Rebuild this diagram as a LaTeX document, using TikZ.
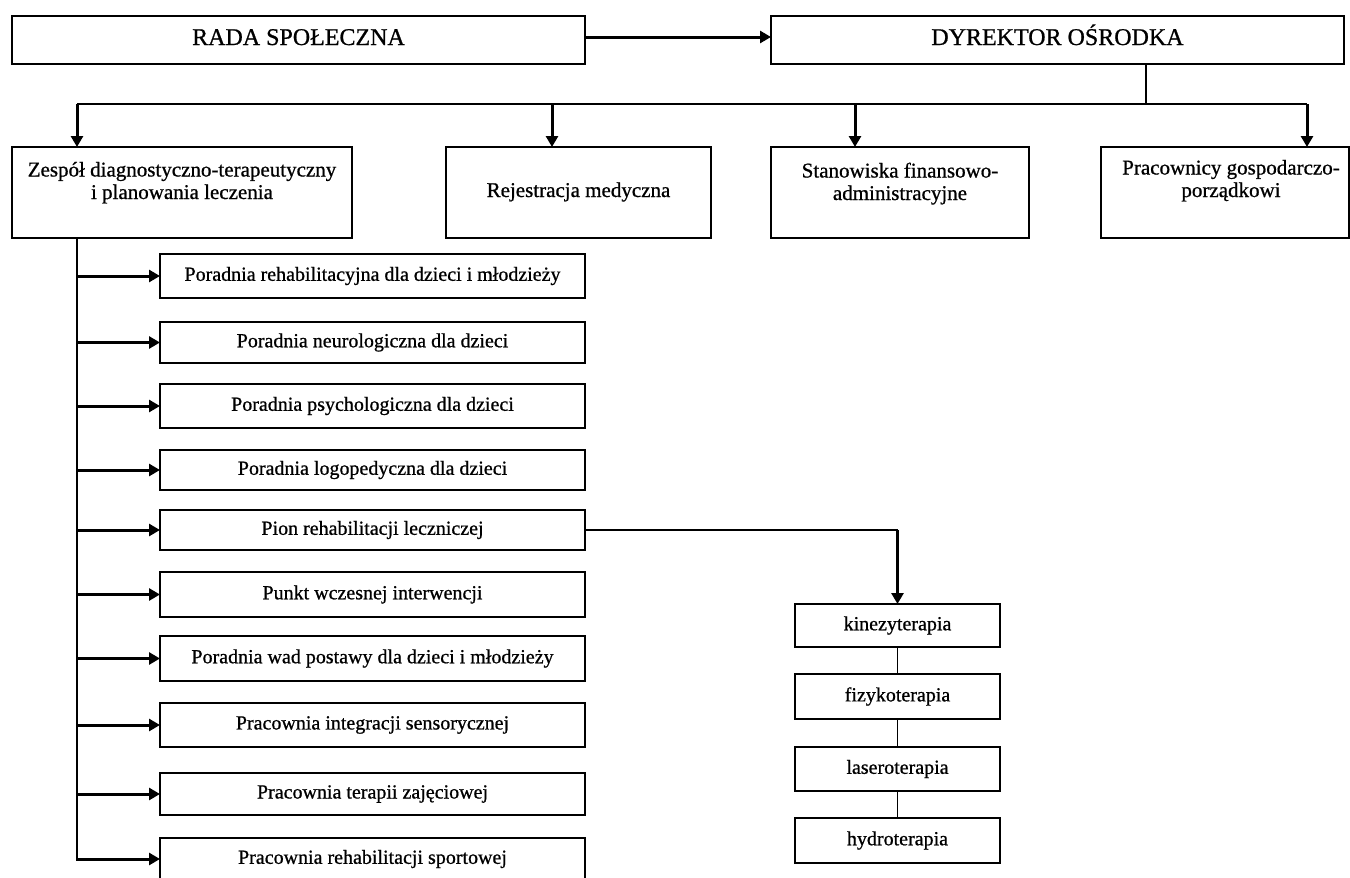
\documentclass[tikz,border=0pt]{standalone}
\usepackage{fontspec}
\setmainfont{Liberation Serif}[FakeBold=0.8]
\usetikzlibrary{arrows.meta}
\begin{document}
\begin{tikzpicture}[x=1pt,y=-1pt,
  box/.style={draw, line width=1.5pt, rectangle, inner sep=0pt, outer sep=0pt},
  t1/.style={font=\fontsize{24}{28}\selectfont, anchor=base, inner sep=0pt},
  t2/.style={font=\fontsize{21}{22.5}\selectfont, align=center, anchor=base, inner sep=0pt},
  sbox/.style={box, minimum width=425pt, font=\fontsize{20}{22}\selectfont},
  kbox/.style={box, minimum width=205pt, font=\fontsize{20}{22}\selectfont},
  arr/.style={line width=3pt, -{Triangle[length=11pt,width=12pt]}},
  thinline/.style={line width=1.5pt},
  mainline/.style={line width=2pt},
]
\useasboundingbox (0,0) rectangle (1350,878);

% top level
\node[box, minimum width=573pt, minimum height=48pt] (rada) at (298.5,40) {};
\node[t1] (radat) at (298.5,45) {RADA SPOŁECZNA};
\node[box, minimum width=573pt, minimum height=48pt] (dyr) at (1057.5,40) {};
\node[t1] (dyrt) at (1057.5,45) {DYREKTOR OŚRODKA};
\draw[arr] ([yshift=3pt]rada.east) -- ([yshift=3pt]dyr.west);

% second level
\node[box, minimum width=340pt, minimum height=91pt] (zes) at (182,192.5) {};
\node[t2] (zest) at (182,199) {Zespół diagnostyczno-terapeutyczny\\i planowania leczenia};
\node[box, minimum width=265pt, minimum height=91pt] (rej) at (578.5,192.5) {};
\node[t2] (rejt) at (578.5,197) {Rejestracja medyczna};
\node[box, minimum width=258pt, minimum height=91pt] (sta) at (900,192.5) {};
\node[t2] (stat) at (900,200) {Stanowiska finansowo-\\administracyjne};
\node[box, minimum width=248pt, minimum height=91pt] (pra) at (1225,192.5) {};
\node[t2] (prat) at (1231,197) {Pracownicy gospodarczo-\\porządkowi};

% bus
\coordinate (bus) at (1146,104);
\coordinate (b1) at (77,104);
\coordinate (b2) at (552,104);
\coordinate (b3) at (855,104);
\coordinate (b4) at (1307,104);
\draw[thinline] (dyr.south -| bus) -- (bus);
\draw[thinline] (b1) -- (b4);
\draw[arr] (b1) -- (b1 |- zes.north);
\draw[arr] (b2) -- (b2 |- rej.north);
\draw[arr] (b3) -- (b3 |- sta.north);
\draw[arr] (b4) -- (b4 |- pra.north);

% units
\node[sbox, minimum height=44pt] (p1) at (372.5,276) {Poradnia rehabilitacyjna dla dzieci i młodzieży};
\node[sbox, minimum height=41pt] (p2) at (372.5,342.5) {Poradnia neurologiczna dla dzieci};
\node[sbox, minimum height=44pt] (p3) at (372.5,406) {Poradnia psychologiczna dla dzieci};
\node[sbox, minimum height=40pt] (p4) at (372.5,470) {Poradnia logopedyczna dla dzieci};
\node[sbox, minimum height=40pt] (p5) at (372.5,530) {Pion rehabilitacji leczniczej};
\node[sbox, minimum height=45pt] (p6) at (372.5,594.5) {Punkt wczesnej interwencji};
\node[sbox, minimum height=45pt] (p7) at (372.5,658.5) {Poradnia wad postawy dla dzieci i młodzieży};
\node[sbox, minimum height=44pt] (p8) at (372.5,725) {Pracownia integracji sensorycznej};
\node[sbox, minimum height=42pt] (p9) at (372.5,794) {Pracownia terapii zajęciowej};
\node[sbox, minimum height=42pt] (p10) at (372.5,859) {Pracownia rehabilitacji sportowej};

\coordinate (mv) at (77,861);
\draw[mainline] (b1 |- zes.south) -- (mv);
\foreach \i in {1,...,10} {
  \draw[arr] (mv |- p\i.west) -- (p\i.west);
}

% therapy column
\node[kbox, minimum height=43pt] (kin) at (897.5,625.5) {kinezyterapia};
\node[kbox, minimum height=45pt] (fiz) at (897.5,696.5) {fizykoterapia};
\node[kbox, minimum height=44pt] (las) at (897.5,769) {laseroterapia};
\node[kbox, minimum height=45pt] (hyd) at (897.5,840.5) {hydroterapia};
\coordinate (pc) at (kin.north |- p5.east);
\draw[thinline] (p5.east) -- (pc);
\draw[arr] (pc) -- (kin.north);
\draw[thinline] (kin.south) -- (fiz.north);
\draw[thinline] (fiz.south) -- (las.north);
\draw[thinline] (las.south) -- (hyd.north);
\end{tikzpicture}
\end{document}
